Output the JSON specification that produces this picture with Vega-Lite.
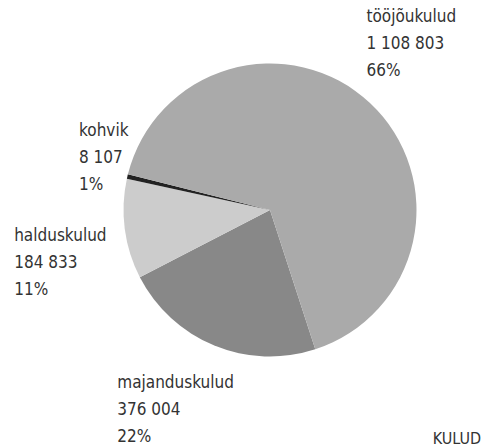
{
  "$schema": "https://vega.github.io/schema/vega-lite/v6.json",
  "width": 300,
  "height": 300,
  "autosize": "none",
  "padding": {"left": 120, "top": 60, "right": 65, "bottom": 85},
  "background": "white",
  "config": {"view": {"stroke": null}, "font": "DejaVu Sans Condensed, DejaVu Sans, sans-serif"},
  "title": {"text": "KULUD", "orient": "bottom", "anchor": "end", "offset": -16, "dx": 25, "fontSize": 16, "fontWeight": "normal", "color": "#333333", "font": "DejaVu Sans Condensed, DejaVu Sans, sans-serif"},
  "data": {"values": [
    {"k": "majanduskulud", "v": 376004, "vt": "376 004", "p": "22%", "o": 1},
    {"k": "halduskulud", "v": 184833, "vt": "184 833", "p": "11%", "o": 2},
    {"k": "kohvik", "v": 8107, "vt": "8 107", "p": "1%", "o": 3},
    {"k": "tööjõukulud", "v": 1108803, "vt": "1 108 803", "p": "66%", "o": 4}
  ]},
  "transform": [{"calculate": "datum.k + '\\n' + datum.vt + '\\n' + datum.p", "as": "label"}],
  "encoding": {
    "theta": {"field": "v", "type": "quantitative", "stack": true, "scale": {"range": [2.8274, 9.1106]}},
    "order": {"field": "o", "type": "quantitative"},
    "detail": {"field": "k", "type": "nominal"}
  },
  "layer": [
    {
      "mark": {"type": "arc", "outerRadius": 146.5},
      "encoding": {
        "color": {"field": "k", "type": "nominal", "legend": null,
          "scale": {"domain": ["majanduskulud", "halduskulud", "kohvik", "tööjõukulud"], "range": ["#888888", "#cccccc", "#222222", "#aaaaaa"]}}
      }
    },
    {
      "mark": {"type": "text", "radius": 200, "align": "left", "baseline": "middle", "dx": -40, "dy": -47, "fontSize": 17, "lineHeight": 27, "lineBreak": "\n", "color": "#333333"},
      "encoding": {"text": {"condition": {"test": "datum.k == 'tööjõukulud'", "field": "label"}, "value": ""}}
    },
    {
      "mark": {"type": "text", "radius": 190, "align": "left", "baseline": "middle", "dx": -6, "dy": -36, "fontSize": 17, "lineHeight": 27, "lineBreak": "\n", "color": "#333333"},
      "encoding": {"text": {"condition": {"test": "datum.k == 'kohvik'", "field": "label"}, "value": ""}}
    },
    {
      "mark": {"type": "text", "radius": 255, "align": "left", "baseline": "middle", "dx": -3, "dy": -7, "fontSize": 17, "lineHeight": 27, "lineBreak": "\n", "color": "#333333"},
      "encoding": {"text": {"condition": {"test": "datum.k == 'halduskulud'", "field": "label"}, "value": ""}}
    },
    {
      "mark": {"type": "text", "radius": 215, "align": "left", "baseline": "middle", "dx": -71, "dy": -26, "fontSize": 17, "lineHeight": 27, "lineBreak": "\n", "color": "#333333"},
      "encoding": {"text": {"condition": {"test": "datum.k == 'majanduskulud'", "field": "label"}, "value": ""}}
    }
  ]
}
